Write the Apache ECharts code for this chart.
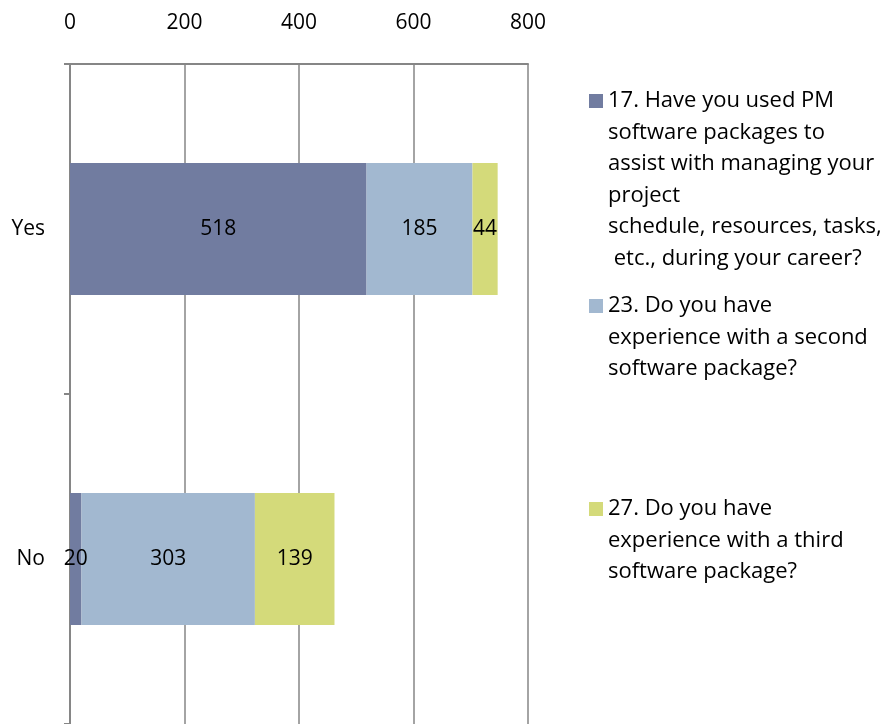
<!DOCTYPE html>
<html>
<head>
<meta charset="utf-8">
<script src="https://cdn.jsdelivr.net/npm/echarts@6/dist/echarts.min.js"></script>
<style>
  html, body { margin: 0; padding: 0; background: #fff; }
  #chart { width: 892px; height: 724px; }
</style>
</head>
<body>
<div id="chart"></div>
<script>
const categories = ['Yes', 'No'];
const seriesNames = [
  '17. Have you used PM\nsoftware packages to\nassist with managing your\nproject\nschedule, resources, tasks,\n etc., during your career?',
  '23. Do you have\nexperience with a second\nsoftware package?',
  '27. Do you have\nexperience with a third\nsoftware package?'
];
const q17 = [518, 20];
const q23 = [185, 303];
const q27 = [44, 139];
const colors = ['#717ca0', '#a2b8d0', '#d4da7a'];

const FONT = 'Open Sans';
const FS = 21;
const LH = 31.5;

const chart = echarts.init(document.getElementById('chart'));

// one legend per series so each can sit at its own height;
// blank lines in front push the text down so the icon sits beside line 1
function legendFor(name, iconCenterY) {
  const lines = name.split('\n').length;
  const boxH = (2 * lines - 1) * LH;
  return {
    data: [name],
    orient: 'vertical',
    left: 589,
    top: iconCenterY - boxH / 2,
    padding: 0,
    itemWidth: 14,
    itemHeight: 14,
    itemGap: 0,
    icon: 'rect',
    selectedMode: false,
    formatter: n => '\n'.repeat(lines - 1) + n,
    textStyle: { fontFamily: FONT, fontSize: 22, color: '#000', lineHeight: LH }
  };
}

chart.setOption({
  animation: false,
  color: colors,
  legend: [
    legendFor(seriesNames[0], 101),
    legendFor(seriesNames[1], 306),
    legendFor(seriesNames[2], 509)
  ],
  grid: { left: 70, top: 64, width: 458, height: 664 },
  xAxis: {
    type: 'value',
    position: 'top',
    min: 0, max: 800, interval: 200,
    axisLine: { show: true, lineStyle: { color: '#868686', width: 2 } },
    axisTick: { show: false },
    axisLabel: { margin: 30, fontFamily: FONT, fontSize: FS, color: '#000' },
    splitLine: { show: true, lineStyle: { color: '#868686', width: 1.5 } }
  },
  yAxis: {
    type: 'category',
    inverse: true,
    data: categories,
    axisLine: { show: true, lineStyle: { color: '#868686', width: 2 } },
    axisTick: { show: true, length: 6, lineStyle: { color: '#868686', width: 2 } },
    axisLabel: { margin: 25, fontFamily: FONT, fontSize: FS, color: '#000' }
  },
  series: [q17, q23, q27].map((vals, i) => ({
    name: seriesNames[i],
    type: 'bar',
    stack: 'total',
    barWidth: 132,
    data: vals,
    itemStyle: { color: colors[i] },
    label: {
      show: true, position: 'inside',
      fontFamily: FONT, fontSize: FS, color: '#000'
    }
  }))
});
</script>
</body>
</html>
